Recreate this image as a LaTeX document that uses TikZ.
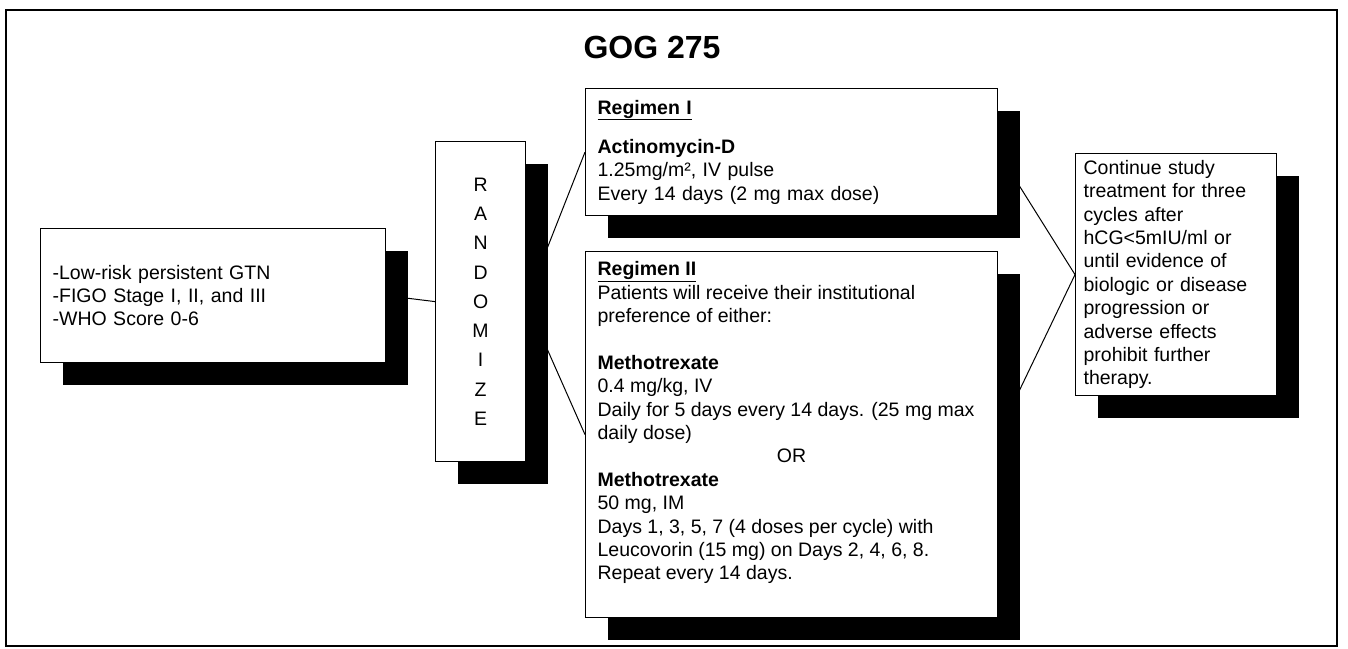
\documentclass[tikz,border=0pt]{standalone}
\usepackage{fontspec}
\setmainfont{Liberation Sans}
\usetikzlibrary{shadows,backgrounds}
\newcommand\bodyfont{\fontsize{19.5}{23.4}\selectfont}
\tikzset{
  box/.style={draw=black, line width=1.2pt, fill=white, anchor=north west,
    inner ysep=0pt, font=\bodyfont,
    drop shadow={shadow xshift=22pt, shadow yshift=-22pt, fill=black, opacity=1}},
  link/.style={draw=black, line width=1pt},
  frame/.style={draw=black, line width=2.5pt},
}
\begin{document}
\begin{tikzpicture}[x=1pt, y=-1pt]
\useasboundingbox (0,0) rectangle (1348,648);
\draw[frame] (6,10) rectangle (1337,646);

\node (title) at (652,47) {\fontsize{32}{38}\selectfont\bfseries GOG 275};

\node[box, inner xsep=12pt, text width=321pt, minimum height=134pt, align=left] (crit) at (40,228)
  {-Low-risk persistent GTN\\-FIGO Stage I, II, and III\\-WHO Score 0-6};

\node[box, inner xsep=0pt, minimum width=90pt, minimum height=320pt, align=center,
      font=\fontsize{19.5}{29.25}\selectfont] (rand) at (435,141)
  {R\\A\\N\\D\\O\\M\\I\\Z\\E};

\node[box, inner xsep=12pt, text width=388pt, minimum height=127pt, align=left] (reg1) at (585,88)
  {\underline{\textbf{Regimen I}}\\[16pt]
   \textbf{Actinomycin-D}\\
   1.25mg/m², IV pulse\\
   Every 14 days (2 mg max dose)};

\node[box, inner xsep=12pt, minimum width=412pt, minimum height=366pt] (reg2) at (585,251)
  {\begin{minipage}[t][346pt][t]{388pt}\raggedright
   \underline{\textbf{Regimen II}}\\
   Patients will receive their institutional\\
   preference of either:\\[23.4pt]
   \textbf{Methotrexate}\\
   0.4 mg/kg, IV\\
   Daily for 5 days every 14 days. (25 mg max\\
   daily dose)\\
   \makebox[\linewidth]{OR}\\
   \textbf{Methotrexate}\\
   50 mg, IM\\
   Days 1, 3, 5, 7 (4 doses per cycle) with\\
   Leucovorin (15 mg) on Days 2, 4, 6, 8.\\
   Repeat every 14 days.
   \end{minipage}};

\node[box, inner xsep=8pt, text width=185pt, minimum height=242pt, align=left] (cont) at (1075,153)
  {Continue study\\treatment for three\\cycles after\\hCG<5mIU/ml or\\until evidence of\\biologic or disease\\progression or\\adverse effects\\prohibit further\\therapy.};

\begin{scope}[on background layer]
  \draw[link] (crit.east) -- (rand.west);
  \draw[link] (rand.east) -- (reg1.west);
  \draw[link] (rand.east) -- (reg2.west);
  \draw[link] (reg1.east) -- (cont.west);
  \draw[link] (reg2.east) -- (cont.west);
\end{scope}
\end{tikzpicture}
\end{document}
